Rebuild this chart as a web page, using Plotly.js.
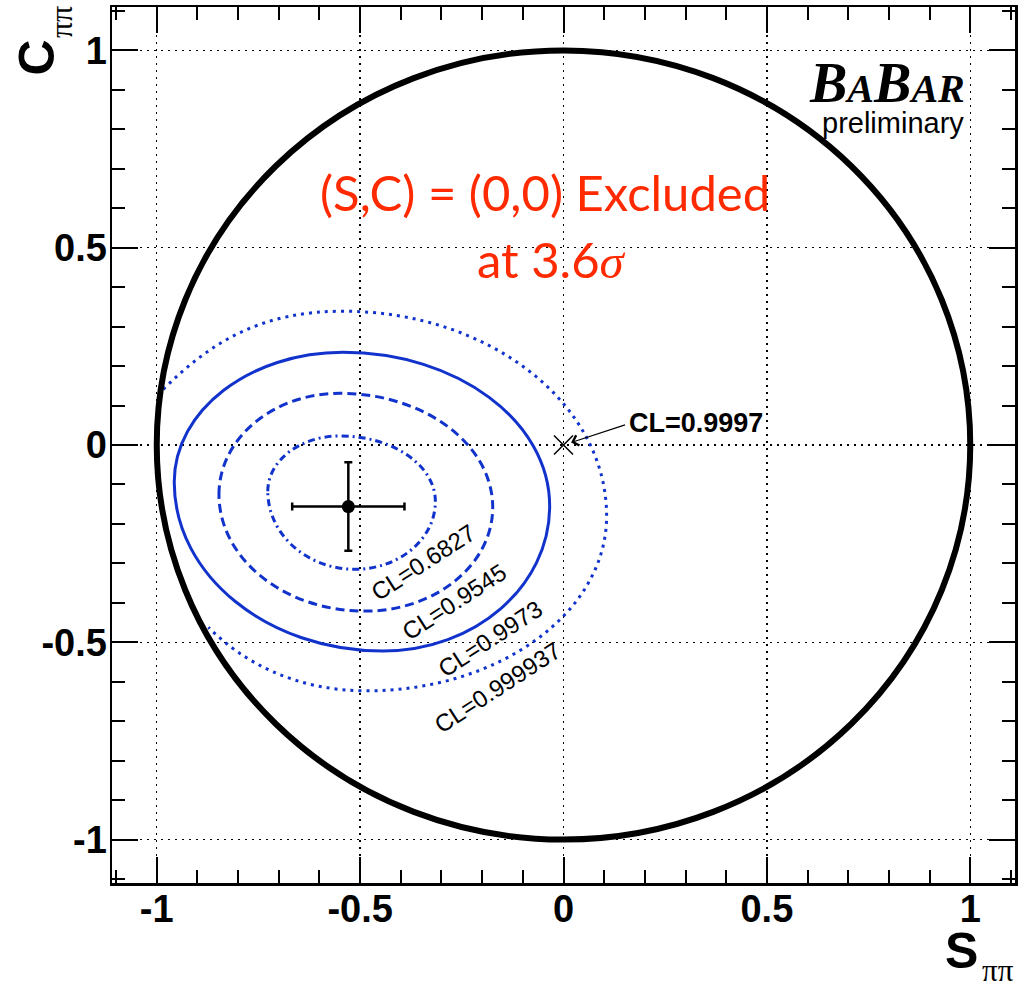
<!DOCTYPE html>
<html>
<head>
<meta charset="utf-8">
<script src="https://cdn.plot.ly/plotly-3.0.1.min.js"></script>
<style>html,body{margin:0;padding:0;background:#fff;}#chart{width:1026px;height:988px;}</style>
</head>
<body>
<div id="chart"></div>
<script>
// ---- data ----
const tickVals = [-1, -0.5, 0, 0.5, 1];
const tickText = ['-1', '-0.5', '0', '0.5', '1'];

// measured central value with errors
const pointS = [-0.529];
const pointC = [-0.156];
const errS = [0.138];
const errC = [0.112];

// point tested for exclusion
const exclS = [0];
const exclC = [0];
const exclCL = '0.9997';

// physical boundary S^2 + C^2 = 1 (extent)
const boundS = [-1, 1];
const boundC = [-1, 1];

// confidence-level contours: extreme points [left, top, right, bottom]
const clLevels = ['0.6827', '0.9545', '0.9973', '0.999937'];
const c68S = [-0.727, -0.550, -0.315, -0.513];
const c68C = [-0.117, 0.023, -0.143, -0.315];
const c95S = [-0.847, -0.550, -0.174, -0.488];
const c95C = [-0.125, 0.131, -0.158, -0.421];
const c997S = [-0.957, -0.542, -0.034, -0.444];
const c997C = [-0.094, 0.235, -0.155, -0.522];
// outermost contour is cut by the physical boundary:
// [start on boundary, top, right, bottom, end on boundary]
const c9999S = [-0.984, -0.542, 0.106, -0.484, -0.873];
const c9999C = [0.141, 0.339, -0.180, -0.623, -0.462];

// ---- styling ----
const BLUE = '#1133cc';
const RED = '#ff2a00';
const K = 0.5523;

function p(x, y) { return x.toFixed(4) + ',' + y.toFixed(4); }

// closed contour through left/top/right/bottom extremes (tangents vertical/horizontal there)
function closedContour(S, C) {
  const L = [S[0], C[0]], T = [S[1], C[1]], R = [S[2], C[2]], B = [S[3], C[3]];
  let d = 'M ' + p(L[0], L[1]);
  d += ' C ' + p(L[0], L[1] + K * (T[1] - L[1])) + ' ' + p(T[0] - K * (T[0] - L[0]), T[1]) + ' ' + p(T[0], T[1]);
  d += ' C ' + p(T[0] + K * (R[0] - T[0]), T[1]) + ' ' + p(R[0], R[1] + K * (T[1] - R[1])) + ' ' + p(R[0], R[1]);
  d += ' C ' + p(R[0], R[1] - K * (R[1] - B[1])) + ' ' + p(B[0] + K * (R[0] - B[0]), B[1]) + ' ' + p(B[0], B[1]);
  d += ' C ' + p(B[0] - K * (B[0] - L[0]), B[1]) + ' ' + p(L[0], L[1] - K * (L[1] - B[1])) + ' ' + p(L[0], L[1]);
  return d + ' Z';
}

// open contour, starting and ending on the physical boundary
function clippedContour(S, C) {
  const A = [S[0], C[0]], T = [S[1], C[1]], R = [S[2], C[2]], B = [S[3], C[3]], E = [S[4], C[4]];
  let d = 'M ' + p(A[0], A[1]);
  d += ' C ' + p(A[0] + 0.120, A[1] + 0.123) + ' ' + p(T[0] - 0.199, T[1]) + ' ' + p(T[0], T[1]);
  d += ' C ' + p(T[0] + K * (R[0] - T[0]), T[1]) + ' ' + p(R[0], R[1] + K * (T[1] - R[1])) + ' ' + p(R[0], R[1]);
  d += ' C ' + p(R[0], R[1] - K * (R[1] - B[1])) + ' ' + p(B[0] + K * (R[0] - B[0]), B[1]) + ' ' + p(B[0], B[1]);
  d += ' C ' + p(B[0] - 0.174, B[1]) + ' ' + p(E[0] + 0.086, E[1] - 0.089) + ' ' + p(E[0], E[1]);
  return d;
}

function contourShape(path, dash) {
  return {type: 'path', xref: 'x', yref: 'y', layer: 'above', path: path,
          line: {color: BLUE, width: 3, dash: dash}};
}

const traces = [
  {
    type: 'scatter', mode: 'markers', x: pointS, y: pointC,
    marker: {color: 'black', size: 13, symbol: 'circle'},
    error_x: {type: 'data', array: errS, color: 'black', thickness: 2.5, width: 4},
    error_y: {type: 'data', array: errC, color: 'black', thickness: 2.5, width: 4},
    showlegend: false, hoverinfo: 'skip'
  },
  {
    type: 'scatter', mode: 'markers', x: exclS, y: exclC,
    marker: {symbol: 'x-thin', size: 19, color: 'black', line: {color: 'black', width: 1.5}},
    showlegend: false, hoverinfo: 'skip'
  }
];

function axis() {
  return {
    range: [-1.11, 1.11],
    tickmode: 'array', tickvals: tickVals, ticktext: tickText,
    ticks: 'inside', ticklen: 26, tickwidth: 2, tickcolor: 'black',
    mirror: 'allticks', showline: true, linewidth: 2.5, linecolor: 'black',
    showgrid: true, gridcolor: 'black', gridwidth: 1.5, griddash: '2px,5px',
    zeroline: false,
    tickfont: {family: 'Liberation Sans, Arial, sans-serif', size: 38, color: 'black', weight: 'bold'},
    minor: {ticks: 'inside', ticklen: 13, tickwidth: 2, tickcolor: 'black', dtick: 0.1, tick0: 0, showgrid: false},
    fixedrange: true
  };
}

const xaxis = axis();
xaxis.ticklabelstandoff = -9;
const yaxis = axis();
yaxis.ticklabelstandoff = -5;

const sans = 'Liberation Sans, Arial, sans-serif';
const serif = 'Liberation Serif, Times New Roman, serif';

const clLabelPos = [[-0.346, -0.297], [-0.268, -0.396], [-0.180, -0.490], [-0.163, -0.614]];

const annotations = [];
clLevels.forEach((cl, i) => {
  annotations.push({
    xref: 'x', yref: 'y', x: clLabelPos[i][0], y: clLabelPos[i][1],
    text: 'CL=' + cl, showarrow: false, textangle: -33,
    xanchor: 'center', yanchor: 'middle',
    font: {family: sans, size: 24, color: 'black'}
  });
});

// arrow to the tested point
annotations.push({
  xref: 'x', yref: 'y', x: exclS[0], y: exclC[0],
  axref: 'x', ayref: 'y', ax: 0.155, ay: 0.052,
  text: '', showarrow: true, arrowhead: 4, arrowsize: 1.6, arrowwidth: 1.3,
  arrowcolor: 'black', standoff: 8
});
annotations.push({
  xref: 'x', yref: 'y', x: 0.157, y: 0.056,
  text: '<b>CL=' + exclCL + '</b>', showarrow: false,
  xanchor: 'left', yanchor: 'middle',
  font: {family: sans, size: 27, color: 'black'}
});

// exclusion statement
annotations.push({
  xref: 'x', yref: 'y', x: -0.046, y: 0.640,
  text: '(S,C) = (0,0) Excluded', showarrow: false,
  xanchor: 'center', yanchor: 'middle',
  font: {family: 'Lato, sans-serif', size: 49, color: RED}
});
annotations.push({
  xref: 'x', yref: 'y', x: -0.029, y: 0.471,
  text: 'at 3.6<i style="font-family:Liberation Serif">σ</i>', showarrow: false,
  xanchor: 'center', yanchor: 'middle',
  font: {family: 'Lato, sans-serif', size: 49, color: RED}
});

// BaBar logo
annotations.push({
  xref: 'x', yref: 'y', x: 0.989, y: 0.918,
  text: '<b><i>B<span style="font-size:40px">A</span>B<span style="font-size:40px">AR</span></i></b>',
  showarrow: false, xanchor: 'right', yanchor: 'middle', borderpad: 0,
  font: {family: serif, size: 56, color: 'black'}
});
annotations.push({
  xref: 'x', yref: 'y', x: 0.988, y: 0.815,
  text: 'preliminary', showarrow: false, xanchor: 'right', yanchor: 'middle', borderpad: 0,
  font: {family: sans, size: 29, color: 'black'}
});

// axis titles
annotations.push({
  xref: 'paper', yref: 'paper', x: 0.9413, y: -0.0776,
  text: '<b>S</b>', showarrow: false, xanchor: 'center', yanchor: 'middle', borderpad: 0,
  font: {family: sans, size: 50, color: 'black'}
});
annotations.push({
  xref: 'paper', yref: 'paper', x: 0.9815, y: -0.1000,
  text: 'ππ', showarrow: false, xanchor: 'center', yanchor: 'middle', borderpad: 0,
  font: {family: serif, size: 31, color: 'black'}
});
annotations.push({
  xref: 'paper', yref: 'paper', x: -0.0831, y: 0.9424,
  text: '<b>C</b>', showarrow: false, textangle: -90, xanchor: 'center', yanchor: 'middle',
  font: {family: sans, size: 50, color: 'black'}
});
annotations.push({
  xref: 'paper', yref: 'paper', x: -0.057, y: 0.9823,
  text: 'ππ', showarrow: false, textangle: -90, xanchor: 'center', yanchor: 'middle', borderpad: 0,
  font: {family: serif, size: 32, color: 'black'}
});

const shapes = [
  contourShape(clippedContour(c9999S, c9999C), '3px,5px'),
  contourShape(closedContour(c997S, c997C), 'solid'),
  contourShape(closedContour(c95S, c95C), '9px,5px'),
  contourShape(closedContour(c68S, c68C), '7px,4px,2px,4px'),
  {
    type: 'circle', xref: 'x', yref: 'y', layer: 'above',
    x0: boundS[0], x1: boundS[1], y0: boundC[0], y1: boundC[1],
    line: {color: 'black', width: 6}
  }
];

const layout = {
  width: 1026, height: 988,
  margin: {l: 112, r: 11, t: 7, b: 105, pad: 0},
  paper_bgcolor: 'white', plot_bgcolor: 'white',
  showlegend: false,
  xaxis: xaxis, yaxis: yaxis,
  shapes: shapes,
  annotations: annotations
};

Plotly.newPlot('chart', traces, layout, {staticPlot: true, displayModeBar: false});
</script>
</body>
</html>
